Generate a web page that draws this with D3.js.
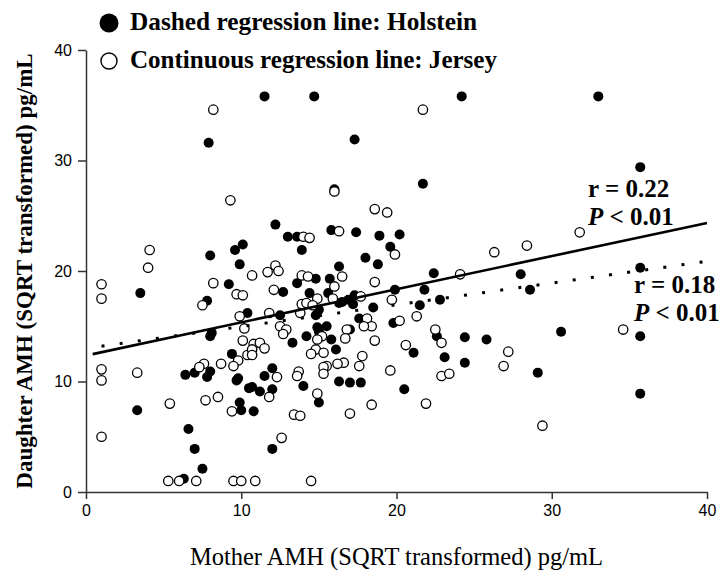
<!DOCTYPE html>
<html>
<head>
<meta charset="utf-8">
<script src="https://cdn.jsdelivr.net/npm/d3@7"></script>
<style>
    html, body { margin: 0; padding: 0; background: #fff; }
    svg { display: block; }
</style>
</head>
<body>
<script>
// Holstein (filled) - [mother, daughter]
var holstein = [
    [7.9,31.6],[8.0,21.4],[9.6,21.9],[10.1,22.4],[9.9,20.6],[3.5,18.0],[9.2,18.8],[7.8,17.3],[10.4,16.2],
    [8.1,14.4],[8.0,14.1],[9.4,12.5],[7.0,10.8],[6.4,10.6],[8.0,10.9],[7.8,10.4],[9.8,10.3],[9.7,10.1],
    [10.5,9.4],[3.3,7.4],[9.9,8.1],[10.0,7.4],[10.8,7.3],[6.6,5.7],[7.0,3.9],[7.5,2.1],[6.3,1.2],[12.0,3.9],
    [11.5,35.8],[14.7,35.8],[17.3,31.9],[16.0,27.4],[12.2,24.2],[13.0,23.1],[13.6,23.1],[13.9,21.9],[15.8,23.7],
    [17.4,23.5],[18.9,23.2],[20.2,23.3],[19.6,22.2],[18.0,21.2],[18.8,20.6],[16.3,20.4],[14.8,19.3],[15.7,19.3],
    [13.6,18.9],[12.7,18.1],[14.4,18.0],[15.6,18.0],[19.9,18.3],[17.3,17.8],[16.5,17.2],[16.9,17.4],[17.2,17.0],
    [16.3,17.1],[15.0,16.5],[18.5,16.7],[12.5,16.0],[14.8,16.0],[17.6,15.7],[19.8,15.3],[14.9,14.9],[15.5,15.0],
    [15.0,14.5],[17.0,14.7],[14.2,14.1],[15.8,13.8],[13.3,13.5],[16.1,12.9],[12.0,11.2],[11.5,10.5],[16.3,10.0],
    [17.0,9.9],[17.7,9.9],[20.5,9.3],[14.0,9.6],[10.7,9.5],[11.2,9.1],[12.0,9.3],[15.0,8.1],
    [24.2,35.8],[33.0,35.8],[35.7,29.4],[21.7,27.9],[22.4,19.8],[28.0,19.7],[35.7,20.3],[21.8,18.3],[28.6,18.3],
    [22.8,17.4],[21.5,16.9],[22.6,14.1],[24.4,14.0],[25.8,13.8],[30.6,14.5],[35.7,14.1],[21.1,12.6],[23.1,12.2],
    [24.4,11.7],[29.1,10.8],[35.7,8.9]
];

// Jersey (open) - [mother, daughter]
var jersey = [
    [8.2,34.6],[9.3,26.4],[4.1,21.9],[4.0,20.3],[1.0,18.8],[1.0,17.5],[8.2,18.9],[9.7,17.9],[10.1,17.8],
    [7.5,16.9],[9.9,15.9],[10.2,14.8],[10.1,13.7],[10.4,12.4],[9.8,11.9],[9.5,11.4],[8.7,11.6],[7.6,11.6],
    [7.3,11.3],[1.0,11.1],[1.0,10.1],[3.3,10.8],[7.7,8.3],[8.5,8.6],[5.4,8.0],[9.4,7.3],[1.0,5.0],[5.3,1.0],
    [6.0,1.0],[7.1,1.0],[9.5,1.0],[10.0,1.0],[10.9,1.0],[14.5,1.0],[12.6,4.9],[13.4,7.0],[13.8,6.9],[17.0,7.1],
    [16.0,27.2],[18.6,25.6],[19.4,25.3],[14.0,23.1],[14.4,23.0],[16.3,23.6],[19.9,21.5],
    [12.2,20.5],[12.4,20.0],[11.7,19.9],[10.7,19.6],[13.9,19.6],[14.3,19.5],[16.5,19.5],[16.0,18.6],[18.6,19.0],
    [12.1,18.3],[15.9,17.5],[14.9,17.5],[17.7,17.7],[13.9,17.0],[14.2,17.1],[14.6,16.9],[19.7,17.4],[11.8,16.2],
    [13.8,16.2],[18.1,15.7],[18.4,15.0],[17.9,15.0],[20.2,15.5],[12.5,15.0],[12.9,14.7],[12.7,14.3],[16.8,14.7],
    [16.7,13.9],[15.2,14.1],[14.9,13.8],[18.6,13.7],[20.6,13.3],[10.8,13.4],[11.2,13.5],[11.5,13.0],[10.7,12.9],
    [10.7,12.4],[14.8,12.9],[14.5,12.5],[15.3,12.6],[17.8,12.3],[16.6,11.7],[16.2,11.6],[17.6,11.4],[15.5,11.4],
    [15.3,11.3],[15.3,10.7],[12.3,10.4],[13.7,10.9],[13.6,10.5],[19.6,11.0],[11.8,8.6],[14.9,8.9],[18.4,7.9],
    [21.7,34.6],[31.8,23.5],[28.4,22.3],[26.3,21.7],[24.1,19.7],[21.3,15.9],[22.5,14.7],[22.9,13.5],[34.6,14.7],
    [27.2,12.7],[26.9,11.4],[22.9,10.5],[23.4,10.7],[21.9,8.0],[29.4,6.0]
];

// regression lines: [intercept, slope, xFrom, xTo]
var fitHolstein = [13.0, 0.197, 1.0, 40.1];
var fitJersey = [12.35, 0.30, 0.43, 40];

var xTicks = [0, 10, 20, 30, 40];
var yTicks = [0, 10, 20, 30, 40];

var legendLabels = ['Dashed regression line: Holstein', 'Continuous regression line: Jersey'];
var statsJersey = ['r = 0.22', '< 0.01'];
var statsHolstein = ['r = 0.18', '< 0.01'];

document.addEventListener("DOMContentLoaded", function(event) {
    var width = 724,
        height = 573,
        serif = '"Liberation Serif", "Times New Roman", serif',
        sans = '"Liberation Sans", Arial, sans-serif',
        svg = d3.select('body').append('svg').attr('width', width).attr('height', height),
        x = d3.scaleLinear().domain([0, 40]).range([86, 707]),
        y = d3.scaleLinear().domain([0, 40]).range([492, 50]);

    // axes
    var xAxis = svg.append('g')
        .attr('transform', 'translate(0,' + y(0) + ')')
        .call(d3.axisBottom(x).tickValues(xTicks).tickSize(7).tickPadding(6).tickSizeOuter(0));
    var yAxis = svg.append('g')
        .attr('transform', 'translate(' + x(0) + ',0)')
        .call(d3.axisLeft(y).tickValues(yTicks).tickSize(8).tickPadding(6).tickSizeOuter(0));

    [xAxis, yAxis].forEach(function(g) {
        g.select('.domain').attr('stroke', '#333').attr('stroke-width', 1.5);
        g.selectAll('.tick line').attr('stroke', '#333').attr('stroke-width', 1.5);
        g.selectAll('.tick text').attr('fill', '#000').style('font-family', sans).style('font-size', '16px');
    });

    // points, Holstein under Jersey
    svg.append('g').selectAll('circle')
        .data(holstein).enter().append('circle')
        .attr('cx', function(d) { return x(d[0]); })
        .attr('cy', function(d) { return y(d[1]); })
        .attr('r', 5)
        .attr('fill', '#000');

    svg.append('g').selectAll('circle')
        .data(jersey).enter().append('circle')
        .attr('cx', function(d) { return x(d[0]); })
        .attr('cy', function(d) { return y(d[1]); })
        .attr('r', 4.7)
        .attr('fill', '#fff')
        .attr('stroke', '#000')
        .attr('stroke-width', 1.3);

    // regression lines
    function fitLine(f) {
        return [[f[2], f[0] + f[1] * f[2]], [f[3], f[0] + f[1] * f[3]]];
    }
    var line = d3.line().x(function(d) { return x(d[0]); }).y(function(d) { return y(d[1]); });

    svg.append('path').attr('d', line(fitLine(fitHolstein)))
        .attr('fill', 'none').attr('stroke', '#000').attr('stroke-width', 3)
        .attr('stroke-dasharray', '3,15.3');
    svg.append('path').attr('d', line(fitLine(fitJersey)))
        .attr('fill', 'none').attr('stroke', '#000').attr('stroke-width', 2.6);

    // stats
    function addStats(lines, px, py) {
        svg.append('text').attr('x', px).attr('y', py).text(lines[0])
            .style('font-family', serif).style('font-size', '25px').style('font-weight', 'bold');
        var t2 = svg.append('text').attr('x', px).attr('y', py + 28)
            .style('font-family', serif).style('font-size', '25px').style('font-weight', 'bold');
        t2.append('tspan').style('font-style', 'italic').text('P');
        t2.append('tspan').text(' ' + lines[1]);
    }
    addStats(statsJersey, 588, 197);
    addStats(statsHolstein, 634, 293);

    // legend
    var legendWidths = [347, 367];
    svg.append('circle').attr('cx', 109).attr('cy', 23).attr('r', 9.5).attr('fill', '#000');
    svg.append('circle').attr('cx', 109).attr('cy', 61).attr('r', 8)
        .attr('fill', '#fff').attr('stroke', '#000').attr('stroke-width', 1.4);
    legendLabels.forEach(function(s, i) {
        svg.append('text').attr('x', 130).attr('y', 30 + i * 38).text(s)
            .attr('textLength', legendWidths[i]).attr('lengthAdjust', 'spacingAndGlyphs')
            .style('font-family', serif).style('font-size', '25px').style('font-weight', 'bold');
    });

    // axis titles
    svg.append('text').attr('x', (x(0) + x(40)) / 2).attr('y', 565)
        .attr('text-anchor', 'middle').text('Mother AMH (SQRT transformed) pg/mL')
        .style('font-family', serif).style('font-size', '24.5px');
    svg.append('text').attr('transform', 'translate(32,' + (y(0) + y(40)) / 2 + ') rotate(-90)')
        .attr('text-anchor', 'middle').text('Daughter AMH (SQRT transformed) pg/mL')
        .style('font-family', serif).style('font-size', '23px').style('font-weight', 'bold');
});
</script>
</body>
</html>
